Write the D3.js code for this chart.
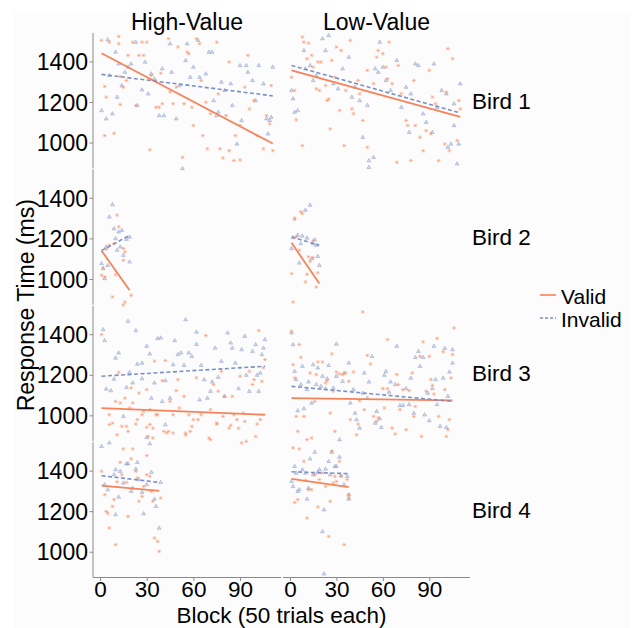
<!DOCTYPE html>
<html><head><meta charset="utf-8">
<script src="https://cdn.jsdelivr.net/npm/d3@7"></script>
<style>
html,body{margin:0;padding:0;background:#fff;}
svg text{font-family:"Liberation Sans",Arial,sans-serif;fill:#000;}
</style></head>
<body><svg id="chart" width="639" height="628"></svg>
<script>
const birds = ["Bird 1","Bird 2","Bird 3","Bird 4"];
const valueTypes = ["High-Value","Low-Value"];
const conditions = ["Valid","Invalid"];
const xTicks = [0,30,60,90];
const yTicks = [1000,1200,1400];

// Bird 1
const b1HighValid = [[1,1504],[3,1277],[4,1224],[3,1034],[6,1495],[9,1046],[12,1523],[12,1487],[13,1326],[13,1188],[15,1273],[17,1306],[18,1430],[21,1495],[23,1183],[25,1430],[27,1495],[28,1430],[30,1495],[32,964],[33,1331],[36,1174],[38,1174],[39,1342],[40,1191],[44,1512],[45,1250],[47,1191],[49,1273],[50,1471],[53,927],[54,1191],[56,1446],[57,1438],[59,1174],[60,1084],[62,1512],[64,1487],[65,1306],[66,1034],[68,1199],[69,969],[71,1142],[75,1495],[76,1240],[77,969],[79,924],[81,1133],[83,1397],[83,960],[86,911],[87,1034],[90,1084],[90,914],[93,1273],[95,1430],[96,1166],[99,1207],[101,1034],[105,969],[107,1133],[109,1092],[110,1281],[111,960]];
const b1HighInvalid = [[1,1158],[4,1117],[5,1507],[6,1331],[8,1142],[10,1446],[11,1224],[12,1388],[14,1281],[16,1347],[18,1372],[20,1388],[23,1495],[24,1183],[27,1260],[29,1397],[31,1240],[33,1339],[35,1314],[38,1133],[40,1364],[41,1133],[45,1487],[46,1347],[49,1117],[51,1281],[53,872],[55,1405],[56,1487],[58,1322],[60,1372],[63,1504],[64,1322],[68,1339],[70,1446],[72,1446],[73,1207],[75,1133],[76,1150],[78,1298],[80,1257],[84,1290],[85,1183],[88,993],[90,1380],[91,1109],[94,1380],[95,1347],[98,1306],[100,1207],[102,1380],[105,1290],[107,1117],[108,1043],[109,1109],[110,1125],[111,1372]];
const b1LowValid = [[1,1322],[3,1257],[4,1112],[8,985],[8,1520],[9,1495],[11,1413],[12,1490],[14,1430],[15,1372],[17,1265],[18,1397],[19,1257],[20,1397],[23,1281],[24,1207],[25,1215],[26,1067],[27,1405],[29,1322],[30,1471],[32,1158],[33,1454],[35,985],[36,1257],[39,1504],[40,1166],[41,1142],[44,1306],[45,1240],[47,1109],[50,1356],[50,977],[54,1290],[56,1421],[57,1454],[60,1438],[62,1372],[63,1314],[64,1495],[66,1290],[69,903],[70,1380],[72,1240],[75,1109],[76,1084],[78,911],[80,1306],[81,1084],[84,1026],[86,960],[88,1059],[90,1356],[91,1043],[92,1224],[94,1191],[96,911],[100,993],[101,1248],[102,1463],[103,960],[105,1413],[108,1010],[109,1207],[110,1166]];
const b1LowInvalid = [[1,1257],[2,1216],[3,1150],[5,1158],[9,1454],[10,1364],[13,1380],[15,1306],[17,1331],[21,1512],[23,1454],[25,1528],[28,1290],[31,1265],[34,1364],[38,1421],[40,1224],[42,1273],[45,1207],[47,1026],[50,1183],[51,911],[51,878],[54,927],[55,1364],[57,1347],[58,1495],[60,1372],[62,1306],[65,1257],[69,1405],[72,1174],[75,1273],[77,1051],[78,1240],[81,1388],[83,1380],[86,1142],[88,1100],[92,1051],[93,1388],[95,1174],[98,1257],[101,1240],[102,977],[104,993],[106,1084],[106,1191],[108,895],[109,993],[110,1290]];

// Bird 2
const b2HighValid = [[1,1018],[3,1010],[2,1054],[4,1147],[6,1166],[9,1174],[11,1315],[12,1257],[10,1021],[15,1150],[16,1133],[15,1092],[8,911],[16,886],[20,920],[15,872]];
const b2HighInvalid = [[1,1076],[2,1051],[3,1002],[4,1158],[5,1067],[6,1306],[8,1367],[10,1199],[11,1142],[12,1232],[13,1158],[14,1240],[15,1117],[17,1196],[19,1207],[19,1084],[9,1248]];
const b2LowValid = [[1,1026],[2,886],[3,1293],[3,1300],[4,1207],[6,1142],[7,1331],[8,1322],[10,985],[11,1023],[12,1109],[13,1087],[15,1105],[15,1188],[17,960],[18,1030]];
const b2LowInvalid = [[1,1150],[2,1204],[5,1216],[6,1079],[7,1174],[8,1212],[10,1339],[11,1202],[13,1364],[14,1100],[15,1174],[16,1194],[17,1166],[18,1112],[19,1067]];

// Bird 3
const b3HighValid = [[1,1398],[6,1003],[8,962],[10,1069],[12,1212],[13,1061],[14,946],[16,1085],[18,921],[19,1036],[20,1135],[21,1061],[24,979],[25,1110],[27,1003],[28,1020],[30,1127],[31,896],[32,1028],[34,937],[35,1267],[36,1003],[37,1003],[40,1171],[41,921],[42,1270],[44,921],[45,1069],[47,1003],[49,1122],[50,1176],[51,1036],[54,1094],[55,913],[57,1003],[58,921],[60,979],[62,1185],[63,979],[65,1003],[68,1393],[70,888],[71,1028],[73,1152],[75,962],[76,1119],[78,1217],[79,995],[80,1094],[83,937],[85,1094],[86,1003],[88,979],[90,1193],[92,1011],[93,970],[94,872],[96,1217],[98,1152],[99,1176],[100,896],[101,957],[102,1418],[103,979],[104,1168],[105,1234],[106,1275],[6,955],[11,904],[17,946],[23,957],[30,941],[32,955],[34,888],[43,913],[47,913],[55,904],[59,946],[71,880],[75,957],[84,951],[89,937],[91,864]];
const b3HighInvalid = [[2,1423],[3,1369],[4,1130],[7,1122],[9,1179],[10,1283],[12,1308],[15,995],[17,1138],[18,1464],[19,1212],[21,1160],[23,1418],[24,1253],[27,1258],[27,1181],[30,1341],[32,1303],[33,1085],[35,1160],[37,1379],[39,1382],[40,1069],[42,1171],[45,1085],[47,1250],[48,1369],[50,1300],[52,1308],[54,1247],[55,1472],[57,1308],[59,1291],[62,1411],[62,1350],[64,1077],[65,1247],[67,1176],[69,1085],[71,1119],[72,1165],[74,1332],[76,1188],[78,1267],[80,1094],[82,1407],[84,1357],[85,1332],[87,1258],[89,1132],[91,1324],[93,1390],[94,1198],[96,1119],[98,1316],[100,1349],[101,1198],[102,1119],[103,1209],[104,1300],[105,1332],[106,1374],[42,954],[30,891]];
const b3LowValid = [[1,1415],[2,1250],[3,1184],[4,995],[5,921],[6,1349],[7,1286],[9,995],[11,880],[13,1209],[14,888],[16,1069],[17,1201],[18,1263],[21,1263],[23,1160],[24,1171],[26,1011],[27,1303],[28,1119],[29,921],[30,1214],[32,1204],[34,1201],[36,1209],[38,1168],[39,979],[41,1214],[43,904],[44,957],[45,1072],[47,1510],[48,1028],[50,1296],[52,1253],[54,995],[56,970],[57,987],[60,1132],[61,1036],[63,1374],[63,1132],[66,937],[68,908],[69,1201],[70,1152],[71,1028],[73,1127],[75,929],[77,1122],[79,1209],[80,995],[81,1044],[84,1291],[85,896],[86,1362],[88,1119],[90,1291],[91,1176],[92,1148],[93,1105],[95,1379],[96,995],[99,1313],[100,1127],[101,896],[102,929],[103,979],[104,1184],[105,1300],[106,1431]];
const b3LowInvalid = [[1,1407],[2,1349],[3,1217],[4,1176],[5,1023],[7,1152],[8,1242],[9,1033],[11,1127],[12,1165],[14,1061],[15,1250],[17,1152],[18,1234],[20,1143],[21,1193],[23,1132],[24,1181],[25,1247],[28,1135],[30,1193],[30,1352],[32,880],[34,1168],[35,1209],[38,1258],[39,1061],[41,1127],[42,1011],[43,979],[45,937],[47,1110],[48,1209],[50,1085],[51,1165],[53,1291],[55,962],[56,1020],[58,983],[59,941],[61,1198],[62,1217],[64,1115],[65,1165],[68,1152],[69,1341],[71,1049],[73,1049],[75,1132],[77,1053],[78,1184],[80,1011],[81,1286],[83,1316],[84,1242],[86,1286],[87,1003],[89,1110],[90,974],[92,1132],[93,1341],[94,1176],[95,1053],[97,946],[99,1184],[100,1330],[101,941],[102,1094],[103,1214],[105,1324],[105,1258]];

// Bird 4
const b4HighValid = [[1,1397],[3,1281],[4,1199],[5,1190],[6,1117],[8,1224],[9,1257],[10,1035],[11,1344],[13,1441],[14,1380],[15,1507],[17,1342],[18,1174],[20,1458],[21,1507],[23,1397],[24,1364],[25,1249],[27,1273],[28,1322],[30,1474],[30,1380],[32,1372],[33,1298],[34,1249],[35,1068],[37,1051],[38,1002],[39,1265]];
const b4HighInvalid = [[1,1520],[3,1331],[5,1306],[6,1537],[9,1380],[10,1405],[10,1183],[12,1270],[13,1397],[15,1339],[17,1434],[18,1434],[20,1298],[21,1314],[23,1408],[24,1441],[25,1356],[27,1293],[28,1188],[30,1331],[32,1533],[33,1392],[35,1260],[36,1224],[38,1117],[39,1342]];
const b4LowValid = [[2,1512],[3,1243],[5,1257],[6,1507],[9,1446],[10,1352],[11,1166],[12,1306],[14,1306],[16,1380],[18,1221],[19,1356],[21,1388],[23,1322],[25,1076],[26,1249],[27,1496],[28,1339],[29,1372],[30,1347],[32,1446],[33,1372],[35,1035],[37,1356],[38,1281],[38,1265]];
const b4LowInvalid = [[1,1347],[2,1322],[3,1421],[4,1388],[5,1298],[6,1306],[8,1405],[10,1388],[11,1260],[12,1314],[13,1458],[15,1380],[16,1491],[18,1392],[19,1405],[21,1100],[22,1207],[22,891],[23,1408],[25,1446],[26,1380],[27,1491],[29,1421],[30,1421],[32,1467],[33,1375],[35,1331],[37,1372],[38,1281],[38,1260]];

// fitted regression lines: [start, end] as [block, ms]
const b1HighValidFit = [[1,1440],[111,995]];
const b1HighInvalidFit = [[1,1336],[111,1230]];
const b1LowValidFit = [[1,1356],[110,1126]];
const b1LowInvalidFit = [[1,1380],[110,1146]];
const b2HighValidFit = [[1,1139],[19,944]];
const b2HighInvalidFit = [[1,1140],[19,1215]];
const b2LowValidFit = [[1,1178],[19,977]];
const b2LowInvalidFit = [[1,1207],[19,1166]];
const b3HighValidFit = [[1,1036],[106,1003]];
const b3HighInvalidFit = [[1,1193],[106,1242]];
const b3LowValidFit = [[1,1085],[105,1074]];
const b3LowInvalidFit = [[1,1143],[105,1069]];
const b4HighValidFit = [[1,1326],[38,1300]];
const b4HighInvalidFit = [[1,1375],[38,1342]];
const b4LowValidFit = [[1,1359],[38,1318]];
const b4LowInvalidFit = [[1,1394],[38,1385]];

const points = {
  "Bird 1|High-Value|Valid": b1HighValid, "Bird 1|High-Value|Invalid": b1HighInvalid,
  "Bird 1|Low-Value|Valid": b1LowValid, "Bird 1|Low-Value|Invalid": b1LowInvalid,
  "Bird 2|High-Value|Valid": b2HighValid, "Bird 2|High-Value|Invalid": b2HighInvalid,
  "Bird 2|Low-Value|Valid": b2LowValid, "Bird 2|Low-Value|Invalid": b2LowInvalid,
  "Bird 3|High-Value|Valid": b3HighValid, "Bird 3|High-Value|Invalid": b3HighInvalid,
  "Bird 3|Low-Value|Valid": b3LowValid, "Bird 3|Low-Value|Invalid": b3LowInvalid,
  "Bird 4|High-Value|Valid": b4HighValid, "Bird 4|High-Value|Invalid": b4HighInvalid,
  "Bird 4|Low-Value|Valid": b4LowValid, "Bird 4|Low-Value|Invalid": b4LowInvalid
};
const fits = {
  "Bird 1|High-Value|Valid": b1HighValidFit, "Bird 1|High-Value|Invalid": b1HighInvalidFit,
  "Bird 1|Low-Value|Valid": b1LowValidFit, "Bird 1|Low-Value|Invalid": b1LowInvalidFit,
  "Bird 2|High-Value|Valid": b2HighValidFit, "Bird 2|High-Value|Invalid": b2HighInvalidFit,
  "Bird 2|Low-Value|Valid": b2LowValidFit, "Bird 2|Low-Value|Invalid": b2LowInvalidFit,
  "Bird 3|High-Value|Valid": b3HighValidFit, "Bird 3|High-Value|Invalid": b3HighInvalidFit,
  "Bird 3|Low-Value|Valid": b3LowValidFit, "Bird 3|Low-Value|Invalid": b3LowInvalidFit,
  "Bird 4|High-Value|Valid": b4HighValidFit, "Bird 4|High-Value|Invalid": b4HighInvalidFit,
  "Bird 4|Low-Value|Valid": b4LowValidFit, "Bird 4|Low-Value|Invalid": b4LowInvalidFit
};

const colors = {Valid:"#FC8D62", Invalid:"#8DA0CB"};
const lineColors = {Valid:"#F8825A", Invalid:"#7C90C6"};

const svg = d3.select("#chart");
svg.append("rect").attr("x",14).attr("y",12).attr("width",616).attr("height",616).attr("fill","#fcfcfc");

const colX = [[93,281],[283,470]];
const top0 = 33, rowH = 135.3, gap = 1.1;
const rowTop = r => top0 + r*(rowH+gap);
const xDomain = [-4.5, 116.3], yDomain = [873, 1540];
const axisColor = "#8a8a8a";
const fontSize = 23;

const asterisk = "M-2,0L2,0M-1,-1.73L1,1.73M-1,1.73L1,-1.73";
const tri = "M0,-2.1L1.9,1.2L-1.9,1.2Z";

birds.forEach((bird, r) => {
  const y = d3.scaleLinear().domain(yDomain).range([rowTop(r)+rowH, rowTop(r)]);
  valueTypes.forEach((vt, c) => {
    const x = d3.scaleLinear().domain(xDomain).range(colX[c]);
    const g = svg.append("g");
    conditions.slice().reverse().forEach(cond => {
      const data = points[bird+"|"+vt+"|"+cond];
      g.selectAll(null).data(data).enter().append("path")
        .attr("transform", d => `translate(${x(d[0])},${y(d[1])})`)
        .attr("d", cond === "Valid" ? asterisk : tri)
        .attr("fill", cond === "Valid" ? "none" : colors[cond])
        .attr("fill-opacity", 0.35)
        .attr("stroke", colors[cond])
        .attr("stroke-width", 0.9)
        .attr("stroke-opacity", 0.6);
    });
    conditions.forEach(cond => {
      const f = fits[bird+"|"+vt+"|"+cond];
      g.append("path")
        .attr("d", d3.line().x(d => x(d[0])).y(d => y(d[1]))(f))
        .attr("fill","none")
        .attr("stroke", lineColors[cond])
        .attr("stroke-width", cond === "Valid" ? 1.8 : 1.6)
        .attr("stroke-dasharray", cond === "Valid" ? null : "4,2.5");
    });
    if (c === 0) {
      const ax = svg.append("g").attr("transform", `translate(${colX[0][0]},0)`)
        .call(d3.axisLeft(y).tickValues(yTicks).tickSize(3.5).tickPadding(1.5).tickFormat(d3.format("d")));
      ax.select(".domain").attr("stroke", axisColor).attr("d", `M0,${rowTop(r)}V${rowTop(r)+rowH}`);
      ax.selectAll(".tick line").attr("stroke", axisColor);
      ax.selectAll(".tick text").attr("font-size", fontSize).attr("fill","#000")
        .attr("font-family","Liberation Sans, Arial, sans-serif").attr("dy","0.357em");
    }
    if (r === birds.length - 1) {
      const ax = svg.append("g").attr("transform", `translate(0,${rowTop(r)+rowH})`)
        .call(d3.axisBottom(x).tickValues(xTicks).tickSize(3.5).tickPadding(1.5).tickFormat(d3.format("d")));
      ax.select(".domain").attr("stroke", axisColor).attr("d", `M${colX[c][0]},0H${colX[c][1]}`);
      ax.selectAll(".tick line").attr("stroke", axisColor);
      ax.selectAll(".tick text").attr("font-size", 22.5).attr("fill","#000")
        .attr("font-family","Liberation Sans, Arial, sans-serif").attr("dy","0.66em");
    }
    if (r === 0) {
      svg.append("text").attr("x", (colX[c][0]+colX[c][1])/2).attr("y", 30)
        .attr("text-anchor","middle").attr("font-size", fontSize).text(vt);
    }
  });
  svg.append("text").attr("x", 472).attr("y", rowTop(r)+rowH/2 + 8)
    .attr("font-size", 22.5).text(bird);
});

svg.append("text").attr("x", (colX[0][0]+colX[1][1])/2).attr("y", 623)
  .attr("text-anchor","middle").attr("font-size", 22.5).text("Block (50 trials each)");
svg.append("text").attr("transform", `translate(34,${(top0 + rowTop(3)+rowH)/2}) rotate(-90)`)
  .attr("text-anchor","middle").attr("font-size", 23).text("Response Time (ms)");

const legY = [295, 318];
conditions.forEach((cond, i) => {
  svg.append("line").attr("x1",540).attr("x2",556).attr("y1",legY[i]).attr("y2",legY[i])
    .attr("stroke", lineColors[cond]).attr("stroke-width", 1.6)
    .attr("stroke-dasharray", cond === "Valid" ? null : "3,2");
  svg.append("text").attr("x",561).attr("y",legY[i]+8.5).attr("font-size", 21).text(cond);
});
</script></body></html>
